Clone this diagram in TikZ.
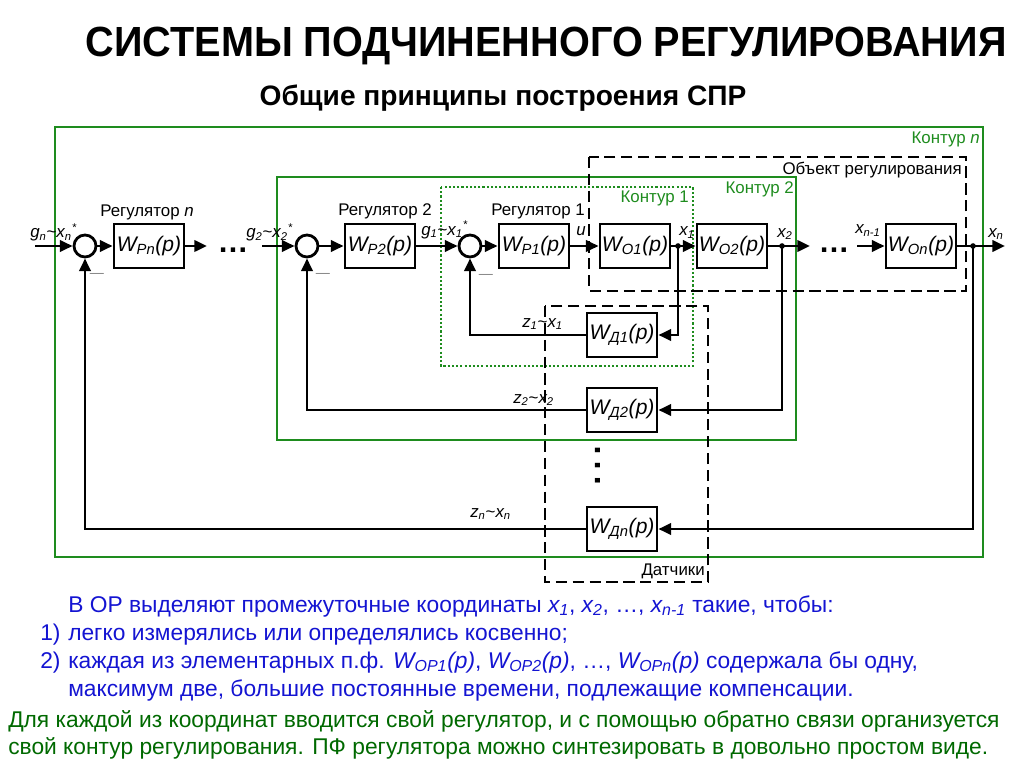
\documentclass[tikz,border=0pt]{standalone}
\usepackage{fontspec}
\setmainfont{Liberation Sans}
\usetikzlibrary{arrows.meta,calc}
\definecolor{kgreen}{RGB}{30,140,30}
\definecolor{tgreen}{RGB}{0,105,0}
\definecolor{tblue}{RGB}{20,20,210}
\newcommand{\Wp}[1]{\textit{W\textsubscript{#1}(p)}}
\newcommand{\xs}[2]{\textit{#1\textsubscript{#2}}}
\tikzset{
  blk/.style={draw,line width=2pt,minimum width=1.75cm,minimum height=1.1cm,inner sep=0pt,font=\fontsize{15}{15}\selectfont},
  sumc/.style={draw,circle,line width=2pt,minimum size=0.55cm,inner sep=0pt},
  arr/.style={line width=2pt,-{Triangle[length=9pt,width=8pt]}},
  lbl/.style={font=\fontsize{12}{14}\selectfont,inner sep=0pt,anchor=base west},
  kontur/.style={draw=kgreen,line width=1.3pt},
  grnlbl/.style={lbl,text=kgreen,anchor=base east},
  dsh/.style={line width=1.6pt,dash pattern=on 8pt off 4pt},
  txtline/.style={anchor=base west,inner sep=0pt,font=\fontsize{16.2}{18}\selectfont},
  minus/.style={font=\fontsize{10}{10}\selectfont,text=gray,inner sep=0pt},
  bigdots/.style={font=\bfseries\fontsize{22}{22}\selectfont,inner sep=0pt}
}
\begin{document}
\begin{tikzpicture}[x=0.025cm,y=-0.025cm]
\useasboundingbox (0,0) rectangle (1024,767);
\node[font=\bfseries\fontsize{30}{32}\selectfont,anchor=base,inner sep=0pt] (title) at (546,57) {\scalebox{0.94}[1]{СИСТЕМЫ ПОДЧИНЕННОГО РЕГУЛИРОВАНИЯ}};
\node[font=\bfseries\fontsize{20}{22}\selectfont,anchor=base,inner sep=0pt] (sub) at (503,106) {Общие принципы построения СПР};

\draw[kontur] (55,127) rectangle (983,557);
\draw[kontur] (277,177) rectangle (796,440);
\draw[kontur,dash pattern=on 1.5pt off 1.5pt] (441,187) rectangle (693,366);
\draw[dsh] (589,157) rectangle (966,291);
\draw[dsh] (545,306) rectangle (708,582);
\node[grnlbl] (kn) at (980,144) {Контур \textit{n}};
\node[grnlbl] (k2) at (794,194) {Контур 2};
\node[grnlbl] (k1) at (689,203) {Контур 1};
\node[lbl,anchor=base east] (obj) at (962,175) {Объект регулирования};
\node[lbl,anchor=base east] (dat) at (705,575) {Датчики};

\node[sumc] (s1) at (85,246) {};
\node[blk] (wpn) at (149,246) {\Wp{Pn}};
\node[sumc] (s2) at (307,246) {};
\node[blk] (wp2) at (380,246) {\Wp{P2}};
\node[sumc] (s3) at (470,246) {};
\node[blk] (wp1) at (534,246) {\Wp{P1}};
\node[blk] (wo1) at (635,246) {\Wp{O1}};
\node[blk] (wo2) at (732,246) {\Wp{O2}};
\node[blk] (won) at (921,246) {\Wp{On}};
\node[blk] (wd1) at (622,335) {\Wp{Д1}};
\node[blk] (wd2) at (622,410) {\Wp{Д2}};
\node[blk] (wdn) at (622,529) {\Wp{Дn}};

\coordinate (in1) at (35,246);
\coordinate (in2) at (262,246);
\coordinate (o1) at (207,246);
\coordinate (o2) at (810,246);
\coordinate (in3) at (857,246);
\coordinate (out) at (1005,246);
\coordinate (j1) at (678,246);
\coordinate (j2) at (782,246);
\coordinate (j3) at (973,246);

\draw[arr] (in1) -- (s1);
\draw[arr] (s1) -- (wpn);
\draw[arr] (wpn) -- (o1);
\draw[arr] (in2) -- (s2);
\draw[arr] (s2) -- (wp2);
\draw[arr] (wp2) -- (s3);
\draw[arr] (s3) -- (wp1);
\draw[arr] (wp1) -- (wo1);
\draw[arr] (wo1) -- (wo2);
\draw[arr] (wo2) -- (o2);
\draw[arr] (in3) -- (won);
\draw[arr] (won) -- (out);
\draw[arr] (j1) |- (wd1.east);
\draw[arr] (j2) |- (wd2.east);
\draw[arr] (j3) |- (wdn.east);
\draw[arr] (wd1.west) -| (s3.south);
\draw[arr] (wd2.west) -| (s2.south);
\draw[arr] (wdn.west) -| (s1.south);
\foreach \j in {j1,j2,j3} \fill (\j) circle[radius=2pt];

\node[bigdots] (dots1) at (233,250) {…};
\node[bigdots] (dots2) at (834,250) {…};
\node[rotate=90,inner sep=0pt,font=\fontsize{34}{34}\selectfont] (dots3) at (598,466) {…};

\node[minus] (m1) at (97,275) {—};
\node[minus] (m2) at (323,275) {—};
\node[minus] (m3) at (486,276) {—};

\node[lbl] (gn) at (30,238) {\xs{g}{n}\textasciitilde\textit{x\textsubscript{n}\textsuperscript{*}}};
\node[lbl,anchor=base] (rn) at (147,217) {Регулятор \textit{n}};
\node[lbl] (g2) at (246,238) {\xs{g}{2}\textasciitilde\textit{x\textsubscript{2}\textsuperscript{*}}};
\node[lbl,anchor=base] (r2) at (385,216) {Регулятор 2};
\node[lbl] (g1) at (421,235) {\xs{g}{1}\textasciitilde\textit{x\textsubscript{1}\textsuperscript{*}}};
\node[lbl,anchor=base] (r1) at (538,216) {Регулятор 1};
\node[lbl,anchor=base] (u) at (581,235) {\textit{u}};
\node[lbl] (x1) at (679,236) {\xs{x}{1}};
\node[lbl] (x2) at (777,237) {\xs{x}{2}};
\node[lbl] (xn1) at (855,234) {\xs{x}{n-1}};
\node[lbl] (xn) at (988,237) {\xs{x}{n}};
\node[lbl] (z1) at (522,327) {\xs{z}{1}\textasciitilde\xs{x}{1}};
\node[lbl] (z2) at (513,403) {\xs{z}{2}\textasciitilde\xs{x}{2}};
\node[lbl] (zn) at (470,517) {\xs{z}{n}\textasciitilde\xs{x}{n}};

\node[txtline,text=tblue] (t1) at (68,612) {В ОР выделяют промежуточные координаты \xs{x}{1}, \xs{x}{2}, …, \xs{x}{n-1} такие, чтобы:};
\node[txtline,text=tblue] (n1) at (40,640) {1)};
\node[txtline,text=tblue] (t2) at (68,640) {легко измерялись или определялись косвенно;};
\node[txtline,text=tblue] (n2) at (40,668) {2)};
\node[txtline,text=tblue] (t3) at (68,668) {каждая из элементарных п.ф. \Wp{ОР1}, \Wp{ОР2}, …, \Wp{ОРn} содержала бы одну,};
\node[txtline,text=tblue] (t4) at (68,696) {максимум две, большие постоянные времени, подлежащие компенсации.};
\node[txtline,text=tgreen] (t5) at (8,727) {Для каждой из координат вводится свой регулятор, и с помощью обратно связи организуется};
\node[txtline,text=tgreen] (t6) at (8,754) {свой контур регулирования. ПФ регулятора можно синтезировать в довольно простом виде.};
\end{tikzpicture}
\end{document}
